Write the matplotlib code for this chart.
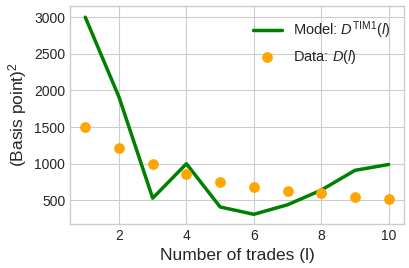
import matplotlib
matplotlib.use("Agg")
import matplotlib.pyplot as plt

plt.style.use("seaborn-v0_8-whitegrid")
plt.rcParams['font.family'] = ['Liberation Sans', 'DejaVu Sans']
plt.rcParams['mathtext.fontset'] = 'custom'
plt.rcParams['mathtext.rm'] = 'Liberation Sans'
plt.rcParams['mathtext.it'] = 'Liberation Sans:italic'

trades = [1, 2, 3, 4, 5, 6, 7, 8, 9, 10]
model_tim1 = [3000, 1910, 530, 1000, 410, 310, 440, 640, 910, 990]
data_d = [1500, 1210, 1000, 855, 755, 685, 630, 595, 550, 520]

fig = plt.figure(figsize=(4.1, 2.68), dpi=100)
ax = fig.add_axes([0.171, 0.164, 0.814, 0.814])
ax.plot(trades, model_tim1, color="green", lw=2.5, label=r"Model: $D^{\mathrm{TIM1}}(l)$")
ax.scatter(trades, data_d, color="orange", s=45, zorder=3, label=r"Data: $D(l)$")

ax.set_xlabel("Number of trades (l)", fontsize=12.5, color="#262626")
ax.set_ylabel(r"(Basis point)$^2$", fontsize=12.5, color="#262626")
ax.tick_params(labelsize=10, colors="#262626")
ax.set_xticks([2, 4, 6, 8, 10])
ax.set_yticks([500, 1000, 1500, 2000, 2500, 3000])
ax.set_ylim(177, 3154)
for s in ax.spines.values():
    s.set_visible(True)
    s.set_color("#cccccc")
ax.legend(fontsize=10.5, frameon=False, loc="upper right")

fig.savefig("out.png", dpi=100)
